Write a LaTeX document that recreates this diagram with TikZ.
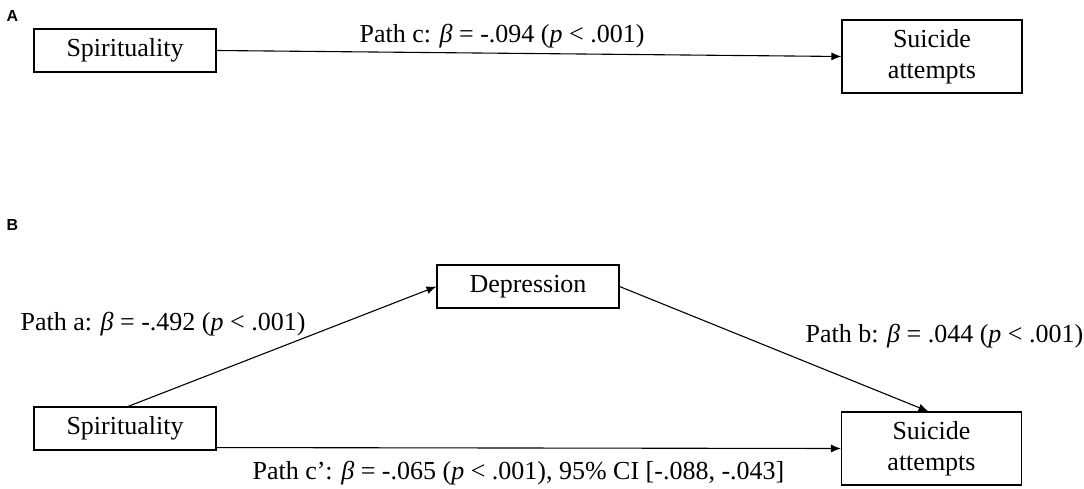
\documentclass[tikz,border=0pt]{standalone}
\usepackage{fontspec}
\setmainfont{Liberation Serif}
\setsansfont{Liberation Sans}
\usetikzlibrary{arrows.meta, positioning}

\begin{document}
\begin{tikzpicture}[x=1pt, y=-1pt, line width=1.1pt,
    every node/.style={font=\fontsize{26}{31}\selectfont},
    box/.style={draw, rectangle, inner sep=0pt, minimum width=182pt, minimum height=43pt, align=center},
    tallbox/.style={box, minimum width=180pt, minimum height=73pt},
    lbl/.style={anchor=base west, inner sep=0pt},
    panel/.style={font=\sffamily\bfseries\fontsize{16}{18}\selectfont, inner sep=0pt},
    link/.style={-{Latex[length=10pt, width=8pt]}}]
    \useasboundingbox (0,0) rectangle (1084,489);

    % panel A
    \node[panel] (tagA) at (12.5,16) {A};
    \node[box] (spirA) at (125,50.5) {Spirituality};
    \node[tallbox] (suicA) at (932,56.5) {Suicide\\attempts};
    \draw[link] (spirA.east) -- (suicA.west);
    \node[lbl] (pathc) at (359,43) {Path c: \textit{β} = -.094 (\textit{p} < .001)};

    % panel B
    \node[panel] (tagB) at (12.5,225) {B};
    \node[box] (depr) at (528,286.5) {Depression};
    \node[box] (spirB) at (125,428.5) {Spirituality};
    \node[tallbox] (suicB) at (931.5,448.5) {Suicide\\attempts};
    \draw[link] ([xshift=3pt]spirB.north) -- (depr.west);
    \draw[link] (depr.east) -- ([xshift=-3pt]suicB.north);
    \draw[link] ([yshift=3pt]spirB.south east) -- (suicB.west);
    \node[lbl] (patha) at (20,330) {Path a: \textit{β} = -.492 (\textit{p} < .001)};
    \node[lbl] (pathb) at (805,342) {Path b: \textit{β} = .044 (\textit{p} < .001)};
    \node[lbl] (pathcp) at (252,479) {Path c’: \textit{β} = -.065 (\textit{p} < .001), 95\% CI [-.088, -.043]};
\end{tikzpicture}
\end{document}
